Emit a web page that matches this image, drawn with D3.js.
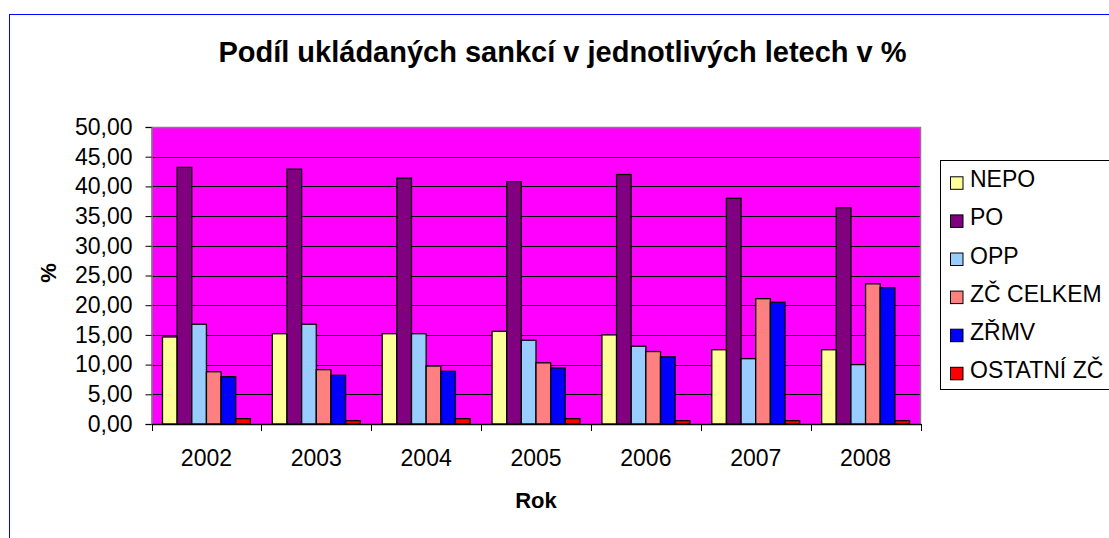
<!DOCTYPE html>
<html><head><meta charset="utf-8">
<script src="https://cdn.jsdelivr.net/npm/d3@7"></script>
<style>body{margin:0;background:#fff}svg{display:block}text{font-family:"Liberation Sans",Arial,sans-serif}</style>
</head><body>
<script>
const years = ["2002","2003","2004","2005","2006","2007","2008"];
const seriesNames = ["NEPO","PO","OPP","ZČ CELKEM","ZŘMV","OSTATNÍ ZČ"];
const seriesColors = ["#FFFF99","#800080","#99CCFF","#FF8080","#0000FF","#FF0000"];
const NEPO = [14.65,15.2,15.2,15.6,15.0,12.5,12.5];
const PO = [43.2,42.9,41.4,40.8,42.0,38.0,36.4];
const OPP = [16.8,16.8,15.2,14.1,13.1,11.0,10.0];
const ZC_CELKEM = [8.8,9.15,9.76,10.3,12.2,21.1,23.6];
const ZRMV = [7.97,8.2,8.87,9.43,11.3,20.5,22.95];
const OSTATNI_ZC = [0.9,0.56,0.9,0.9,0.56,0.56,0.56];
const yTicks = [0,5,10,15,20,25,30,35,40,45,50];
const title = "Podíl ukládaných sankcí v jednotlivých letech v %";
const xTitle = "Rok", yTitle = "%";

const seriesValues = [NEPO,PO,OPP,ZC_CELKEM,ZRMV,OSTATNI_ZC];
const W=1109,H=538;
const svg=d3.select("body").append("svg").attr("width",W).attr("height",H);
svg.append("rect").attr("x",9.5).attr("y",14.5).attr("width",1200).attr("height",600).attr("fill","#fff").attr("stroke","#0000FF");

const L=151.5,R=920.5,T=127,B=424;
const x=d3.scaleBand().domain(years).range([L,R]).paddingInner(0).paddingOuter(0);
const y=d3.scaleLinear().domain([0,50]).range([B,T]);
const inner=d3.scaleBand().domain(d3.range(seriesNames.length)).range([0,x.bandwidth()]).paddingOuter(0.75).paddingInner(0);

svg.append("rect").attr("x",L).attr("y",T).attr("width",R-L).attr("height",B-T).attr("fill","#FF00FF");
svg.append("g").selectAll("line").data(yTicks.filter(d=>d>0&&d<50)).join("line")
 .attr("x1",L).attr("x2",R).attr("y1",d=>Math.round(y(d))+0.5).attr("y2",d=>Math.round(y(d))+0.5)
 .attr("stroke","#000").attr("stroke-width",1);
svg.append("path").attr("d",`M${L},${T+0.5}H${R}V${B}`).attr("fill","none").attr("stroke","#808080").attr("stroke-width",1.5);

const g=svg.append("g");
seriesValues.forEach((vals,si)=>{
  g.append("g").selectAll("rect").data(vals).join("rect")
   .attr("x",(d,i)=>x(years[i])+inner(si))
   .attr("y",d=>y(d))
   .attr("width",inner.bandwidth())
   .attr("height",d=>B-y(d))
   .attr("fill",seriesColors[si]).attr("stroke","#000").attr("stroke-width",1.3);
});

const fmt=d=>d3.format(".2f")(d).replace(".",",");
const ya=svg.append("g").attr("transform",`translate(${L},0)`)
 .call(d3.axisLeft(y).tickValues(yTicks).tickFormat(fmt).tickSize(6).tickPadding(13));
ya.select(".domain").attr("stroke","#808080").attr("stroke-width",1.5);
ya.selectAll(".tick line").attr("stroke","#000");
ya.selectAll(".tick text").attr("font-size",23).attr("fill","#000").attr("font-family","Liberation Sans, Arial");

const xa=svg.append("g").attr("transform",`translate(0,${B})`)
 .call(d3.axisBottom(x).tickSize(0).tickPadding(26));
xa.select(".domain").attr("stroke","#000").attr("stroke-width",1.5);
xa.selectAll(".tick text").attr("font-size",23).attr("fill","#000").attr("font-family","Liberation Sans, Arial");
svg.append("g").selectAll("line").data(years.concat(["end"])).join("line")
 .attr("x1",(d,i)=>Math.round(L+i*x.step())+0.5).attr("x2",(d,i)=>Math.round(L+i*x.step())+0.5)
 .attr("y1",B).attr("y2",B+7).attr("stroke","#000");

svg.append("text").attr("x",562.5).attr("y",62).attr("text-anchor","middle").attr("font-size",29).attr("font-weight","bold").text(title);
svg.append("text").attr("x",(L+R)/2).attr("y",508).attr("text-anchor","middle").attr("font-size",22).attr("font-weight","bold").text(xTitle);
svg.append("text").attr("transform",`translate(56,273) rotate(-90)`).attr("text-anchor","middle").attr("font-size",22).attr("font-weight","bold").text(yTitle);

const lg=svg.append("g");
lg.append("rect").attr("x",940.5).attr("y",160.5).attr("width",200).attr("height",229).attr("fill","#fff").attr("stroke","#000");
const li=lg.selectAll("g").data(seriesNames).join("g").attr("transform",(d,i)=>`translate(0,${187.3+i*38.1})`);
li.append("rect").attr("x",950.5).attr("y",-10.5).attr("width",12.5).attr("height",12.5).attr("fill",(d,i)=>seriesColors[i]).attr("stroke","#000");
li.append("text").attr("x",970).attr("y",0).attr("font-size",23).text(d=>d);
</script>
</body></html>
